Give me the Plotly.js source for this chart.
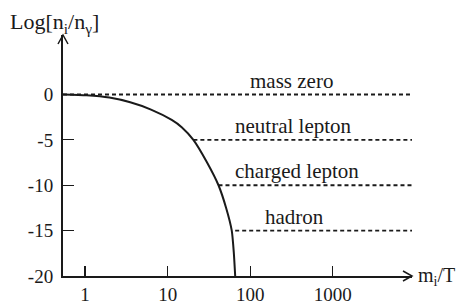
<!DOCTYPE html>
<html>
<head>
<meta charset="utf-8">
<script src="https://cdn.plot.ly/plotly-3.0.1.min.js"></script>
<style>html,body{margin:0;padding:0;background:#fff;}#chart{width:462px;height:305px;}</style>
</head>
<body>
<div id="chart"></div>
<script>
// Curve: Log[n_i/n_gamma] vs m_i/T
const curveX = [0.54, 1.04, 1.97, 3.52, 6.29, 11.2, 14.8, 20.5, 29.8, 41.3, 51.1, 59.8, 63.4, 65.8];
const curveY = [0, -0.09, -0.34, -0.86, -1.66, -2.80, -3.60, -5, -7.44, -10, -12.5, -15, -17.5, -20];

// Horizontal dashed levels
const levelNames = ["mass zero", "neutral lepton", "charged lepton", "hadron"];
const levelY = [0, -5, -10, -15];
const levelStartX = [0.54, 20.5, 41.3, 65.8];
const levelEndX = 9120;
const labelCenterX = [316, 330, 368, 348];

const xTicks = [1, 10, 100, 1000];
const xTickText = ["1", "10", "100", "1000"];
const yTicks = [-20, -15, -10, -5, 0];
const yTickText = ["-20", "-15", "-10", "-5", "0"];

const ink = "#1a1a1a";
const fontFam = "Liberation Serif, Times New Roman, serif";

const traces = [];
levelNames.forEach((name, i) => {
  traces.push({
    x: [levelStartX[i], levelEndX], y: [levelY[i], levelY[i]],
    mode: "lines", line: {color: ink, width: 1.8, dash: "4px,3px"},
    hoverinfo: "skip", showlegend: false
  });
});
traces.push({
  x: curveX, y: curveY, mode: "lines",
  line: {color: ink, width: 2, shape: "spline", smoothing: 0.6},
  showlegend: false
});

const annotations = levelNames.map((name, i) => ({
  x: Math.log10(labelCenterX[i]), y: levelY[i], xref: "x", yref: "y",
  text: name, showarrow: false, xanchor: "center", yanchor: "bottom", yshift: 0,
  font: {family: fontFam, size: 21, color: ink}
}));
annotations.push({
  xref: "paper", yref: "paper", x: -0.158, y: 1.115, xanchor: "left", yanchor: "top",
  text: "Log[n<sub>i</sub>/n<sub>γ</sub>]", showarrow: false,
  font: {family: fontFam, size: 22, color: ink}
});
annotations.push({
  xref: "paper", yref: "paper", x: 1.012, y: 0, xanchor: "left", yanchor: "middle",
  text: "m<sub>i</sub>/T", showarrow: false,
  font: {family: fontFam, size: 20, color: ink}
});

const shapes = [
  {type: "path", xref: "paper", yref: "paper", xsizemode: "pixel", ysizemode: "pixel",
   xanchor: 1, yanchor: 0, path: "M-9,-5 L0,0 L-9,5", line: {color: ink, width: 1.5}},
  {type: "path", xref: "paper", yref: "paper", xsizemode: "pixel", ysizemode: "pixel",
   xanchor: 0, yanchor: 1, path: "M-5,-9 L0,0 L5,-9", line: {color: ink, width: 1.5}}
];

const layout = {
  width: 462, height: 305,
  margin: {l: 63, r: 50, t: 35, b: 29},
  paper_bgcolor: "#fff", plot_bgcolor: "#fff",
  showlegend: false,
  font: {family: fontFam, size: 19, color: ink},
  xaxis: {
    type: "log", range: [Math.log10(0.54), Math.log10(9120)],
    tickvals: xTicks, ticktext: xTickText,
    ticks: "inside", ticklen: 10, tickwidth: 1.2, tickcolor: ink,
    showline: true, linecolor: ink, linewidth: 2,
    showgrid: false, zeroline: false,
    tickfont: {family: fontFam, size: 19, color: ink}
  },
  yaxis: {
    range: [-20, 6.56],
    tickvals: yTicks, ticktext: yTickText,
    ticks: "inside", ticklen: 11, tickwidth: 1.2, tickcolor: ink,
    showline: true, linecolor: ink, linewidth: 2,
    showgrid: false, zeroline: false, ticklabelstandoff: 4,
    tickfont: {family: fontFam, size: 19, color: ink}
  },
  annotations: annotations,
  shapes: shapes
};

Plotly.newPlot("chart", traces, layout, {displayModeBar: false, staticPlot: true});
</script>
</body>
</html>
